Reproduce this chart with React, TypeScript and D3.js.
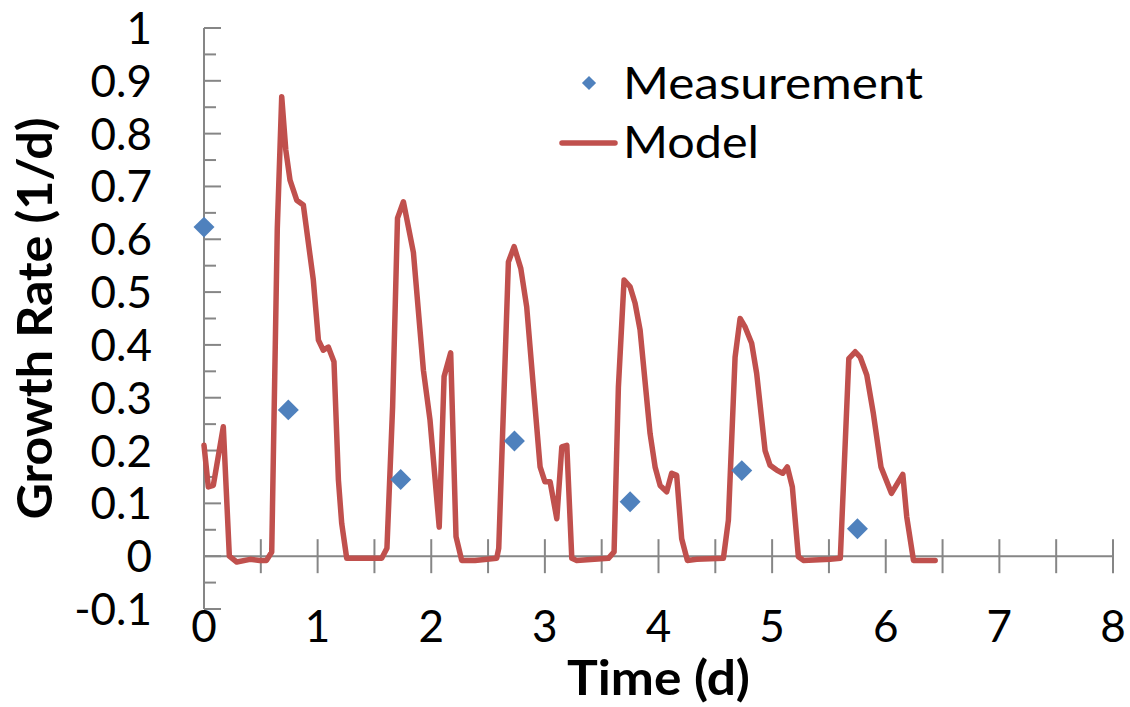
import React from "react";
import * as d3 from "d3";

// Model output: time (d) and growth rate (1/d)
const modelTime = [
  0.0, 0.038, 0.082, 0.17, 0.223, 0.288, 0.405, 0.49, 0.55, 0.596, 0.645, 0.684, 0.72, 0.757, 0.816, 0.874,
  0.962, 1.007, 1.05, 1.094, 1.144, 1.183, 1.212, 1.256, 1.564, 1.61, 1.66, 1.703, 1.755, 1.843, 1.931,
  1.989, 2.07, 2.113, 2.171, 2.218, 2.268, 2.385, 2.576, 2.594, 2.679, 2.729, 2.788, 2.84, 2.899, 2.958,
  3.0, 3.046, 3.105, 3.149, 3.193, 3.237, 3.28, 3.559, 3.609, 3.647, 3.697, 3.75, 3.794, 3.838, 3.926,
  3.97, 4.014, 4.072, 4.116, 4.16, 4.204, 4.254, 4.337, 4.571, 4.615, 4.674, 4.718, 4.762, 4.82, 4.864,
  4.938, 4.982, 5.04, 5.093, 5.134, 5.178, 5.231, 5.275, 5.51, 5.6, 5.675, 5.731, 5.775, 5.833, 5.891,
  5.958, 6.05, 6.15, 6.185, 6.244, 6.435,
];
const modelRate = [
  0.21, 0.131, 0.134, 0.245, 0.0, -0.011, -0.006, -0.008, -0.008, 0.008, 0.62, 0.87, 0.769, 0.712, 0.674, 0.665,
  0.523, 0.409, 0.39, 0.396, 0.368, 0.144, 0.062, -0.004, -0.004, 0.015, 0.283, 0.64, 0.671, 0.575, 0.352,
  0.258, 0.055, 0.34, 0.385, 0.037, -0.008, -0.008, -0.004, 0.015, 0.557, 0.586, 0.545, 0.472, 0.32, 0.169,
  0.141, 0.141, 0.071, 0.207, 0.21, -0.004, -0.008, -0.004, 0.008, 0.32, 0.523, 0.51, 0.479, 0.428, 0.232,
  0.169, 0.134, 0.122, 0.157, 0.153, 0.033, -0.008, -0.006, -0.004, 0.068, 0.377, 0.45, 0.434, 0.403, 0.346,
  0.2, 0.172, 0.163, 0.157, 0.169, 0.131, -0.001, -0.008, -0.006, -0.004, 0.374, 0.387, 0.377, 0.343, 0.27,
  0.169, 0.119, 0.155, 0.074, -0.008, -0.008,
];

// Measured growth rates
const measuredTime = [0, 0.742, 1.731, 2.732, 3.75, 4.733, 5.751];
const measuredRate = [0.623, 0.277, 0.145, 0.218, 0.103, 0.162, 0.052];

// Axis ticks
const xTickLabels = [0, 1, 2, 3, 4, 5, 6, 7, 8];
const yTickLabels = [-0.1, 0, 0.1, 0.2, 0.3, 0.4, 0.5, 0.6, 0.7, 0.8, 0.9, 1];

const seriesNames = ["Measurement", "Model"];
const xTitle = "Time (d)";
const yTitle = "Growth Rate (1/d)";

const W = 1130;
const H = 707;
const RED = "#C0504D";
const BLUE = "#4F81BD";
const AXIS = "#868686";
const FONT = "Lato, 'Open Sans', sans-serif";

export default function App() {
  const x = d3.scaleLinear().domain([0, 8]).range([204, 1113]);
  const y = d3.scaleLinear().domain([-0.1, 1]).range([609, 28]);

  const modelPts: [number, number][] = modelTime.map((t, i) => [t, modelRate[i]]);
  const line = d3
    .line<[number, number]>()
    .x((d) => x(d[0]))
    .y((d) => y(d[1]));

  const diamond = d3.symbol().type(d3.symbolSquare).size(220)();
  const legendDiamond = d3.symbol().type(d3.symbolSquare).size(100)();

  const xMinor = d3.range(0, 8.0001, 0.5).slice(1);
  const yMinor = d3.range(-0.1, 1.0001, 0.05);

  const x0 = x(0);
  const y0 = y(0);

  return (
    <svg
      width={W}
      height={H}
      viewBox={`0 0 ${W} ${H}`}
      style={{ position: "absolute", left: 0, top: 0, background: "#fff" }}
    >
      <rect x={0} y={0} width={W} height={H} fill="#fff" />

      {/* vertical axis with tick marks */}
      <line x1={x0} x2={x0} y1={y(1)} y2={y(-0.1)} stroke={AXIS} strokeWidth={2} />
      {yMinor.map((v, i) => {
        const major = i % 2 === 0;
        return (
          <line
            key={`yt${i}`}
            x1={x0}
            x2={x0 + (major ? 17 : 12)}
            y1={y(v)}
            y2={y(v)}
            stroke={AXIS}
            strokeWidth={2}
          />
        );
      })}

      {/* horizontal axis at zero with crossing ticks */}
      <line x1={x0} x2={x(8)} y1={y0} y2={y0} stroke={AXIS} strokeWidth={2} />
      {xMinor.map((t, i) => (
        <line key={`xt${i}`} x1={x(t)} x2={x(t)} y1={y0 - 17} y2={y0 + 17} stroke={AXIS} strokeWidth={2} />
      ))}

      {/* tick labels */}
      {yTickLabels.map((v) => (
        <text
          key={`yl${v}`}
          x={152}
          y={y(v) + 16}
          textAnchor="end"
          fontFamily={FONT}
          fontSize={44}
          fill="#000"
        >
          {String(v)}
        </text>
      ))}
      {xTickLabels.map((t) => (
        <text
          key={`xl${t}`}
          x={x(t)}
          y={642}
          textAnchor="middle"
          fontFamily={FONT}
          fontSize={44}
          fill="#000"
        >
          {String(t)}
        </text>
      ))}

      {/* axis titles */}
      <text
        x={(x(0) + x(8)) / 2}
        y={695}
        textAnchor="middle"
        fontFamily={FONT}
        fontWeight="bold"
        fontSize={48}
        textLength={183}
        lengthAdjust="spacingAndGlyphs"
        fill="#000"
      >
        {xTitle}
      </text>
      <text
        transform={`translate(52, ${(y(1) + y(-0.1)) / 2}) rotate(-90)`}
        textAnchor="middle"
        fontFamily={FONT}
        fontWeight="bold"
        fontSize={48}
        textLength={402}
        lengthAdjust="spacingAndGlyphs"
        fill="#000"
      >
        {yTitle}
      </text>

      {/* model curve */}
      <path
        d={line(modelPts) ?? ""}
        fill="none"
        stroke={RED}
        strokeWidth={5.5}
        strokeLinejoin="round"
        strokeLinecap="round"
      />

      {/* measurements */}
      {measuredTime.map((t, i) => (
        <path
          key={`m${i}`}
          d={diamond ?? ""}
          transform={`translate(${x(t)}, ${y(measuredRate[i])}) rotate(45)`}
          fill={BLUE}
        />
      ))}

      {/* legend */}
      <path d={legendDiamond ?? ""} transform="translate(589, 83) rotate(45)" fill={BLUE} />
      <text
        x={623}
        y={99}
        fontFamily={FONT}
        fontSize={44}
        textLength={300}
        lengthAdjust="spacingAndGlyphs"
        fill="#000"
      >
        {seriesNames[0]}
      </text>
      <line x1={562} x2={615} y1={143} y2={143} stroke={RED} strokeWidth={5.5} strokeLinecap="round" />
      <text
        x={623}
        y={158}
        fontFamily={FONT}
        fontSize={44}
        textLength={136}
        lengthAdjust="spacingAndGlyphs"
        fill="#000"
      >
        {seriesNames[1]}
      </text>
    </svg>
  );
}
